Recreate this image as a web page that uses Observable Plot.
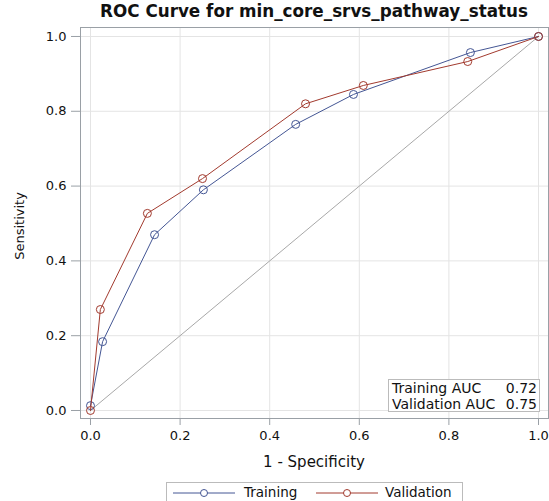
<!DOCTYPE html>
<html><head><meta charset="utf-8">
<script src="https://cdn.jsdelivr.net/npm/d3@7"></script>
<script src="https://cdn.jsdelivr.net/npm/@observablehq/plot@0.6"></script>
<style>
body{margin:0;background:#fff}
#c{position:relative;width:549px;height:501px;font-family:"DejaVu Sans",sans-serif;color:#111;overflow:hidden}
#title{position:absolute;left:60px;width:508px;top:1px;text-align:center;font:bold 16.8px "DejaVu Sans",sans-serif;white-space:nowrap}
#ylab{position:absolute;left:19px;top:226px;transform:translate(-50%,-50%) rotate(-90deg);font-size:13px;white-space:nowrap}
#xlab{position:absolute;left:80px;width:468px;top:453px;text-align:center;font-size:15px}
#auc{position:absolute;left:388px;top:379px;width:152px;height:33px;border:1px solid #bbb;box-sizing:border-box;background:#fff;font-size:14px;line-height:16px}
#auc .row{position:relative;height:15.5px}
#auc .n{position:absolute;left:3px}
#auc .v{position:absolute;right:2px}
#legend{position:absolute;left:166px;top:482px;width:297px;height:22px;border:1px solid #bbb;box-sizing:border-box;font-size:13.5px}
#legend .it{position:absolute;top:1px;line-height:17px}
</style>
</head><body><div id="c"><div id="title"></div><div id="ylab"></div><div id="xlab"></div><div id="auc"></div><div id="legend"></div></div>
<script>
const titleText = "ROC Curve for min_core_srvs_pathway_status";
const xLabel = "1 - Specificity";
const yLabel = "Sensitivity";
const ticks = [0, 0.2, 0.4, 0.6, 0.8, 1.0];
const diag = [0, 1];
const trainX = [0, 0.027, 0.143, 0.252, 0.458, 0.587, 0.848, 1];
const trainY = [0.013, 0.184, 0.47, 0.59, 0.765, 0.845, 0.957, 1];
const validX = [0, 0.022, 0.127, 0.25, 0.48, 0.609, 0.842, 1];
const validY = [0, 0.27, 0.527, 0.62, 0.82, 0.869, 0.933, 1];
const seriesNames = ["Training", "Validation"];
const aucValues = [0.72, 0.75];
const colors = ["#445694", "#A23A2E"];

const train = trainX.map((x, i) => ({x, y: trainY[i]}));
const valid = validX.map((x, i) => ({x, y: validY[i]}));
const diagData = diag.map(d => ({x: d, y: d}));

const plot = Plot.plot({
  width: 549, height: 501,
  marginLeft: 80, marginRight: 1, marginTop: 27, marginBottom: 83,
  style: {fontFamily: '"DejaVu Sans",sans-serif', fontSize: "13px", color: "#111", background: "#fff"},
  x: {domain: [-0.0223, 1.0223]},
  y: {domain: [-0.0214, 1.024]},
  marks: [
    Plot.gridX(ticks, {stroke: "#e4e4e4", strokeOpacity: 1}),
    Plot.gridY(ticks, {stroke: "#e4e4e4", strokeOpacity: 1}),
    Plot.frame({stroke: "#9aa0a6"}),
    Plot.line(diagData, {x: "x", y: "y", stroke: "#a8a8a8", strokeWidth: 1}),
    Plot.line(train, {x: "x", y: "y", stroke: colors[0], strokeWidth: 1}),
    Plot.dot(train, {x: "x", y: "y", stroke: colors[0], r: 4, strokeWidth: 1}),
    Plot.line(valid, {x: "x", y: "y", stroke: colors[1], strokeWidth: 1}),
    Plot.dot(valid, {x: "x", y: "y", stroke: colors[1], r: 4, strokeWidth: 1}),
    Plot.axisX(ticks, {tickFormat: d3.format(".1f"), tickSize: 7, tickPadding: 5, stroke: "#9aa0a6", label: null, anchor: "bottom"}),
    Plot.axisY(ticks, {tickFormat: d3.format(".1f"), tickSize: 9, tickPadding: 5, stroke: "#9aa0a6", label: null, anchor: "left"})
  ]
});
document.getElementById("c").prepend(plot);
document.getElementById("title").textContent = titleText;
document.getElementById("xlab").textContent = xLabel;
document.getElementById("ylab").textContent = yLabel;
document.getElementById("auc").innerHTML = seriesNames.map((n, i) =>
  `<div class="row"><span class="n">${n} AUC</span><span class="v">${aucValues[i].toFixed(2)}</span></div>`).join("");
const legPos = [{line: 6, text: 77}, {line: 149, text: 218}];
document.getElementById("legend").innerHTML = seriesNames.map((n, i) =>
  `<svg class="it" style="left:${legPos[i].line}px;top:4px" width="62" height="12"><line x1="0" x2="62" y1="6" y2="6" stroke="${colors[i]}"/><circle cx="31" cy="6" r="3.5" fill="#fff" stroke="${colors[i]}"/></svg><span class="it" style="left:${legPos[i].text}px">${n}</span>`).join("");
</script>
</body></html>
